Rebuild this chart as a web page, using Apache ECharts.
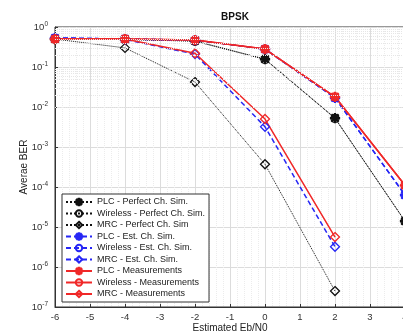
<!DOCTYPE html>
<html>
<head>
<meta charset="utf-8">
<script src="https://cdn.jsdelivr.net/npm/echarts@6/dist/echarts.min.js"></script>
<style>
  html, body { margin: 0; padding: 0; background: #fff; }
  #chart { width: 403px; height: 333px; }
</style>
</head>
<body>
<div id="chart"></div>
<script>
// Eb/N0 points (dB)
var snr = [-6, -4, -2, 0, 2, 4];

// perfect channel simulation (black)
var plcPerfect = [0.5, 0.49, 0.45, 0.158, 5.3e-3, 1.4e-5];
var wirelessPerfect = [0.5, 0.49, 0.44, 0.155, 5.2e-3, 1.4e-5];
var mrcPerfect = [0.5, 0.3, 0.042, 3.7e-4, 2.5e-7, '-'];

// estimated channel simulation (blue)
var plcEst = [0.53, 0.5, 0.47, 0.28, 0.017, 6.3e-5];
var wirelessEst = [0.53, 0.5, 0.47, 0.28, 0.017, 6.3e-5];
var mrcEst = [0.53, 0.49, 0.21, 3.2e-3, 3.2e-6, '-'];

// measurements (red)
var plcMeas = [0.5, 0.5, 0.47, 0.28, 0.018, 1.1e-4];
var wirelessMeas = [0.5, 0.5, 0.47, 0.28, 0.018, 1.1e-4];
var mrcMeas = [0.5, 0.5, 0.22, 5e-3, 5.6e-6, '-'];

var xTicks = [-6, -5, -4, -3, -2, -1, 0, 1, 2, 3, 4];

var BLACK = '#111';
var BLUE = '#2626f5';
var RED = '#f02828';

var asterisk = 'path://M-1,-10L1,-10L1,10L-1,10Z M-10,-1L10,-1L10,1L-10,1Z M-7.8,-6.4L-6.4,-7.8L7.8,6.4L6.4,7.8Z M6.4,-7.8L7.8,-6.4L-6.4,7.8L-7.8,6.4Z';

function pairs(arr) {
  return snr.map(function (x, i) { return [x, arr[i]]; });
}

function mk(name, arr, color, lineType, width, symbol, size) {
  return {
    name: name,
    type: 'line',
    data: pairs(arr),
    symbol: symbol,
    symbolSize: size,
    color: color,
    lineStyle: { color: color, width: width, type: lineType },
    itemStyle: { color: symbol === asterisk ? color : 'rgba(255,255,255,0)', borderColor: color, borderWidth: 1.3 },
    z: 3
  };
}

// minor log grid lines 2..9 x 10^e
var minorY = [];
for (var e = -7; e < 0; e++) {
  for (var k = 2; k <= 9; k++) minorY.push(k * Math.pow(10, e));
}

var chart = echarts.init(document.getElementById('chart'), null, { renderer: 'canvas' });

var option = {
  backgroundColor: '#fff',
  animation: false,
  title: {
    text: 'BPSK',
    left: 230,
    textAlign: 'center',
    top: 7,
    textStyle: { fontSize: 10, fontWeight: 'bold', color: '#111', fontFamily: 'Liberation Sans' }
  },
  grid: {
    left: 55,
    width: 350,
    top: 27,
    bottom: 26,
    containLabel: false,
    outerBoundsMode: 'none',
    show: true,
    borderColor: '#333',
    borderWidth: 1
  },
  legend: {
    orient: 'vertical',
    left: 62,
    top: 194,
    data: ['PLC - Perfect Ch. Sim.', 'Wireless - Perfect Ch. Sim.', 'MRC - Perfect Ch. Sim',
      'PLC - Est. Ch. Sim.', 'Wireless - Est. Ch. Sim.', 'MRC - Est. Ch. Sim.',
      'PLC - Measurements', 'Wireless - Measurements', 'MRC - Measurements'],
    itemWidth: 26,
    itemHeight: 8,
    itemGap: 1.5,
    padding: [3, 4, 3, 3],
    backgroundColor: '#fff',
    borderColor: '#333',
    borderWidth: 1,
    textStyle: { fontSize: 9, color: '#222', lineHeight: 10, fontFamily: 'Liberation Sans' }
  },
  xAxis: {
    type: 'value',
    min: -6,
    max: 4,
    interval: 1,
    name: 'Estimated Eb/N0',
    nameLocation: 'middle',
    nameGap: 16,
    nameMoveOverlap: false,
    nameTextStyle: { fontSize: 10, color: '#222', fontFamily: 'Liberation Sans' },
    axisLine: { onZero: false, lineStyle: { color: '#333' } },
    axisTick: { inside: true, length: 3, lineStyle: { color: '#333' } },
    axisLabel: { fontSize: 9.5, color: '#333', margin: 5, fontFamily: 'Liberation Sans',
      formatter: function (v) { return xTicks.indexOf(v) >= 0 ? String(v) : ''; } },
    splitLine: { show: true, lineStyle: { color: '#dcdcdc', width: 1 } },
    minorTick: { show: false, splitNumber: 5 },
    minorSplitLine: { show: true, lineStyle: { color: '#ececec', type: 'dotted' } }
  },
  yAxis: {
    type: 'log',
    logBase: 10,
    min: 1e-7,
    max: 1,
    name: 'Averae BER',
    nameLocation: 'middle',
    nameGap: 26,
    nameMoveOverlap: false,
    nameTextStyle: { fontSize: 10, color: '#222', fontFamily: 'Liberation Sans' },
    axisLine: { show: true, onZero: false, lineStyle: { color: '#333' } },
    axisTick: { inside: true, length: 3, lineStyle: { color: '#333' } },
    axisLabel: {
      fontSize: 9.5,
      color: '#333',
      margin: 7,
      fontFamily: 'Liberation Sans',
      formatter: function (v) {
        var p = Math.round(Math.log10(v));
        return '10{sup|' + p + '}';
      },
      rich: {
        sup: { fontSize: 6.5, verticalAlign: 'top', padding: [0, 0, 6, 0], color: '#333', fontFamily: 'Liberation Sans' }
      }
    },
    splitLine: { show: true, lineStyle: { color: '#dcdcdc', width: 1 } }
  },
  series: [
    {
      type: 'line',
      data: [],
      silent: true,
      z: 1,
      markLine: {
        silent: true,
        symbol: 'none',
        label: { show: false },
        lineStyle: { color: '#e6e6e6', type: 'dotted', width: 1 },
        data: minorY.map(function (v) { return { yAxis: v }; })
      }
    },
    mk('PLC - Perfect Ch. Sim.', plcPerfect, BLACK, 'dotted', 1, asterisk, 9),
    mk('Wireless - Perfect Ch. Sim.', wirelessPerfect, BLACK, 'dotted', 1, 'circle', 8),
    mk('MRC - Perfect Ch. Sim', mrcPerfect, BLACK, 'dotted', 1, 'diamond', 9),
    mk('PLC - Est. Ch. Sim.', plcEst, BLUE, [5, 3], 1.5, asterisk, 9),
    mk('Wireless - Est. Ch. Sim.', wirelessEst, BLUE, [5, 3], 1.5, 'circle', 8),
    mk('MRC - Est. Ch. Sim.', mrcEst, BLUE, [5, 3], 1.5, 'diamond', 9),
    mk('PLC - Measurements', plcMeas, RED, 'solid', 1.5, asterisk, 9),
    mk('Wireless - Measurements', wirelessMeas, RED, 'solid', 1.5, 'circle', 8),
    mk('MRC - Measurements', mrcMeas, RED, 'solid', 1.5, 'diamond', 9)
  ]
};

option && chart.setOption(option);
</script>
</body>
</html>
